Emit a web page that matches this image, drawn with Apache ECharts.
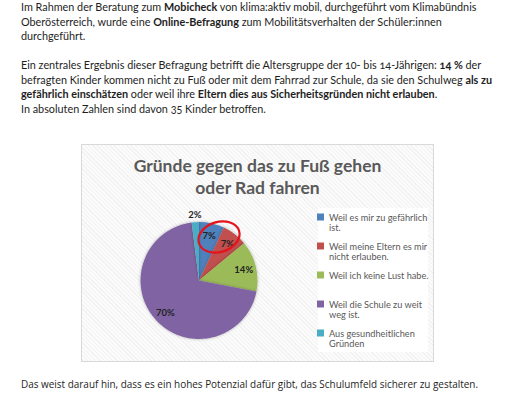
<!DOCTYPE html>
<html><head><meta charset="utf-8">
<script src="https://cdn.jsdelivr.net/npm/echarts@6/dist/echarts.min.js"></script>
<style>
html,body{margin:0;padding:0;background:#fff;width:527px;height:400px;overflow:hidden;}
.txt{position:absolute;left:21px;white-space:nowrap;color:#1e1e1e;}
#p1{top:0px;font-family:Lato,"Noto Sans",sans-serif;font-size:11.5px;line-height:14.5px;font-feature-settings:"onum";}
#p3{top:377px;font-family:"Open Sans",sans-serif;font-size:10px;line-height:15px;}
#chart{position:absolute;left:81px;top:144px;width:353px;height:218px;
  box-shadow:inset 0 0 0 1px #d9d9d9;
  background:repeating-linear-gradient(45deg,#fbfbfb 0px,#fbfbfb 2px,#f2f2f2 2px,#f2f2f2 3px);}
</style></head><body>
<div id="p1" class="txt"><span id="l1">Im Rahmen der Beratung zum <b>Mobicheck</b> von klima:aktiv mobil, durchgeführt vom Klimabündnis</span><br>Oberösterreich, wurde eine <b>Online-Befragung</b> zum Mobilitätsverhalten der Schüler:innen<br>durchgeführt.<br><br>Ein zentrales Ergebnis dieser Befragung betrifft die Altersgruppe der 10- bis 14-Jährigen: <b>14 %</b> der<br>befragten Kinder kommen nicht zu Fuß oder mit dem Fahrrad zur Schule, da sie den Schulweg <b>als zu</b><br><b>gefährlich einschätzen</b> oder weil ihre <b>Eltern dies aus Sicherheitsgründen nicht erlauben</b>.<br>In absoluten Zahlen sind davon 35 Kinder betroffen.</div>
<div id="chart"></div>
<div id="p3" class="txt"><span id="l3">Das weist darauf hin, dass es ein hohes Potenzial dafür gibt, das Schulumfeld sicherer zu gestalten.</span></div>
<script>
const titleLines = ['Gründe gegen das zu Fuß gehen', 'oder Rad fahren'];
const categories = ['Weil es mir zu gefährlich ist.', 'Weil meine Eltern es mir nicht erlauben.', 'Weil ich keine Lust habe.', 'Weil die Schule zu weit weg ist.', 'Aus gesundheitlichen Gründen'];
const shares = [7, 7, 14, 70, 2];
const colors = ['#4F81BD', '#C0504D', '#9BBB59', '#8064A2', '#4BACC6'];

function fitText() {
  const l1 = document.getElementById('l1');
  const p1 = document.getElementById('p1');
  const w1 = l1.getBoundingClientRect().width;
  p1.style.fontSize = (11.5 * 456 / w1) + 'px';
  const l3 = document.getElementById('l3');
  const p3 = document.getElementById('p3');
  const w3 = l3.getBoundingClientRect().width;
  p3.style.fontSize = (10 * 458 / w3) + 'px';
}
fitText();

const CX = 118, CY = 136.5, R = 58.5;
const total = shares.reduce((a, b) => a + b, 0);
function midAngle(i) {
  let s = 0;
  for (let k = 0; k < i; k++) s += shares[k];
  return (s + shares[i] / 2) / total * 2 * Math.PI;
}
function wrap(name) {
  const words = name.split(' ');
  const lines = [];
  let cur = '';
  words.forEach(w => {
    const t = cur ? cur + ' ' + w : w;
    if (t.length > 25 && cur) { lines.push(cur); cur = w; } else cur = t;
  });
  lines.push(cur);
  return lines;
}

const chart = echarts.init(document.getElementById('chart'), null, {renderer: 'svg'});
chart.setOption({
  animation: false,
  backgroundColor: 'transparent',
  color: colors,
  title: {
    text: titleLines.join('\n'),
    left: 'center',
    top: 10,
    padding: 0,
    textStyle: {fontFamily: 'Lato', fontSize: 17.5, fontWeight: 'bold', color: '#595959', lineHeight: 22}
  },
  legend: {
    orient: 'vertical',
    left: 236,
    top: 58,
    padding: 0,
    itemWidth: 7,
    itemHeight: 7,
    itemGap: -1,
    icon: 'rect',
    data: categories,
    formatter: function (n) {
      const lines = wrap(n);
      if (lines.length === 1) lines.push(' ');
      return [' '].concat(lines).join('\n');
    },
    textStyle: {fontFamily: 'Lato', fontSize: 9.2, lineHeight: 10, color: '#595959'}
  },
  graphic: [
    {type: 'rect', left: 237, top: 64, z: 0, shape: {width: 110, height: 144}, style: {fill: '#ffffff'}},
    {type: 'ellipse', x: 138, y: 93, rotation: 0.3, z: 100,
      shape: {cx: 0, cy: 0, rx: 21, ry: 15}, style: {fill: 'none', stroke: '#e3141b', lineWidth: 2.2}}
  ],
  series: [{
    type: 'pie',
    center: [CX, CY],
    radius: R,
    startAngle: 90,
    clockwise: true,
    data: categories.map((c, i) => ({name: c, value: shares[i]})),
    itemStyle: {borderWidth: 0, shadowBlur: 3, shadowColor: 'rgba(0,0,0,0.3)'},
    label: {show: true, position: 'inside', formatter: '{c}%', fontFamily: 'Lato', fontSize: 9.5, fontWeight: 'bold', color: '#222'},
    labelLine: {show: false},
    emphasis: {disabled: true},
    labelLayout: function (p) {
      const i = p.dataIndex;
      const a = midAngle(i);
      const r = shares[i] < 5 ? R + 8 : R * 0.79;
      return {x: CX + r * Math.sin(a), y: CY - r * Math.cos(a), align: 'center', verticalAlign: 'middle'};
    }
  }]
});
</script>
</body></html>
